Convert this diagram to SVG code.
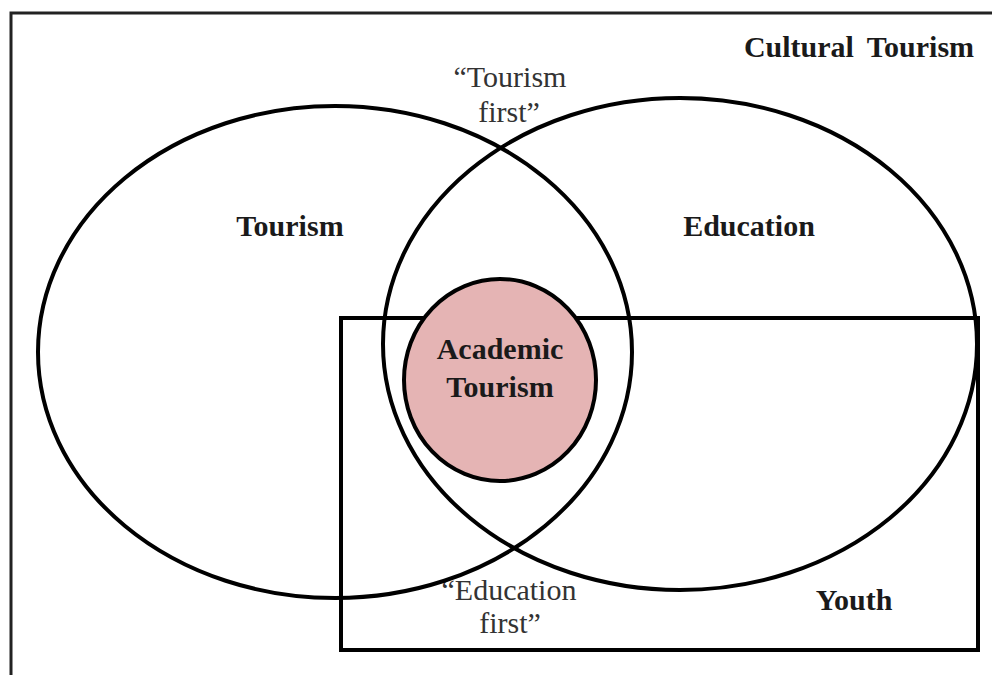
<svg xmlns="http://www.w3.org/2000/svg" width="992" height="675" viewBox="0 0 992 675">
<style>
.b{font-family:"Liberation Serif","Times New Roman",serif;font-weight:bold;font-size:30px;fill:#1a1a1a;text-anchor:middle}
.r{font-family:"Liberation Serif","Times New Roman",serif;font-size:30px;fill:#333;text-anchor:middle}
.ln{fill:none;stroke:#000;stroke-width:4}
</style>
<rect width="992" height="675" fill="#fff"/>
<g id="frame">
<path d="M11,675 V13 H992" fill="none" stroke="#222" stroke-width="3"/>
<text class="b" x="859" y="57" word-spacing="6">Cultural Tourism</text>
</g>
<g id="labels">
<text class="r" x="510" y="87">“Tourism</text>
<text class="r" x="509" y="122">first”</text>
<text class="r" x="509" y="600">“Education</text>
<text class="r" x="510" y="633">first”</text>
</g>
<g id="youth">
<rect class="ln" x="341" y="318" width="637" height="332"/>
<text class="b" x="854" y="610">Youth</text>
</g>
<g id="tourism">
<ellipse class="ln" cx="335" cy="352" rx="297" ry="246"/>
<text class="b" x="290" y="236">Tourism</text>
</g>
<g id="education">
<ellipse class="ln" cx="680" cy="344" rx="297" ry="246"/>
<text class="b" x="749" y="236">Education</text>
</g>
<g id="academic">
<ellipse cx="500" cy="380" rx="96" ry="101" fill="#e5b4b4" stroke="#000" stroke-width="4"/>
<text class="b" x="500" y="359" fill="#2a1515">Academic</text>
<text class="b" x="500" y="397" fill="#2a1515">Tourism</text>
</g>
<g id="connectors"></g>
</svg>
